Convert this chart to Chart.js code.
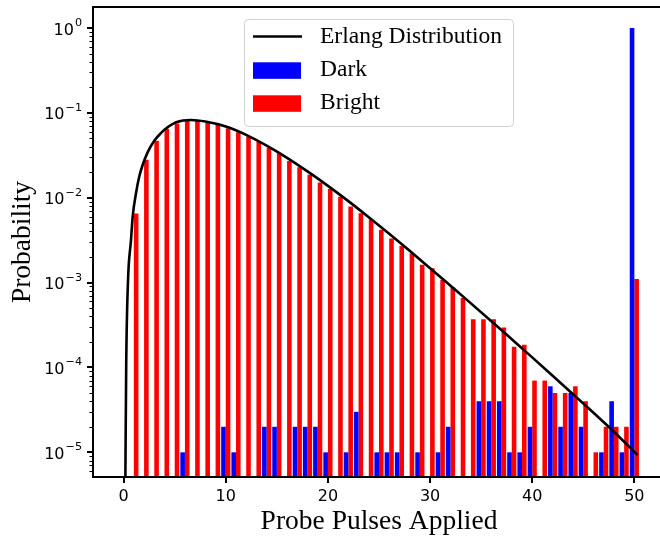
<!DOCTYPE html>
<html>
<head>
<meta charset="utf-8">
<script src="https://cdn.jsdelivr.net/npm/chart.js@4.4.1/dist/chart.umd.min.js"></script>
<style>
  html, body { margin: 0; padding: 0; background: #fff; overflow: hidden; }
  #wrap { position: relative; width: 672px; height: 539px; }
</style>
</head>
<body>
<div id="wrap"><canvas id="pulses" width="672" height="539"></canvas></div>
<script>
  // number of probe pulses applied before detection
  const pulses = [1, 2, 3, 4, 5, 6, 7, 8, 9, 10, 11, 12, 13, 14, 15, 16, 17, 18, 19, 20,
    21, 22, 23, 24, 25, 26, 27, 28, 29, 30, 31, 32, 33, 34, 35, 36, 37, 38, 39, 40,
    41, 42, 43, 44, 45, 46, 47, 48, 49, 50];

  // bright state probabilities
  const bright = [0.0065, 0.028, 0.047, 0.065, 0.075, 0.080, 0.080, 0.0775, 0.0734, 0.0659,
    0.0591, 0.0525, 0.0458, 0.0389, 0.0334, 0.0271, 0.0228, 0.0186, 0.0151, 0.0127,
    0.0103, 0.00786, 0.00657, 0.00558, 0.0042, 0.0033, 0.0027, 0.00222, 0.00162, 0.00148,
    0.00108, 0.00088, 0.00066, 0.00037, 0.00037, 0.00037, 0.000295, 0.000175, 0.000185, 7e-5,
    7e-5, 5e-5, 5e-5, 6e-5, 4e-5, 1e-5, 2e-5, 2e-5, 2e-5, 0.0011];

  // dark state: only the pulse counts that were ever hit
  const darkPulses = [6, 10, 11, 14, 15, 17, 18, 19, 20, 22, 23, 25, 26, 27, 29, 31, 32,
    35, 36, 37, 38, 39, 40, 42, 43, 44, 45, 47, 48, 49, 50];
  const dark = [1e-5, 2e-5, 1e-5, 2e-5, 2e-5, 2e-5, 2e-5, 2e-5, 1e-5, 1e-5, 3e-5, 1e-5, 1e-5, 1e-5, 1e-5, 1e-5, 2e-5,
    4e-5, 4e-5, 4e-5, 1e-5, 1e-5, 2e-5, 6e-5, 2e-5, 5e-5, 2e-5, 1e-5, 4e-5, 1e-5, 1.0];

  // erlang fit
  const erlangX = [0.12, 0.17, 0.25, 0.42, 0.72, 0.885, 1.21, 1.54, 1.87, 2.36, 3.0, 3.67, 4.33, 5.14,
    6.6, 8, 10, 12, 14, 16, 18, 20, 22, 24, 26, 28, 30, 32, 34, 36, 38, 40, 42, 44, 46, 48, 50.3];
  const erlangY = [1e-6, 5e-6, 1.05e-4, 1.0e-3, 3.16e-3, 6.0e-3, 1.13e-2, 1.8e-2, 2.45e-2, 3.45e-2,
    4.7e-2, 5.8e-2, 6.8e-2, 7.75e-2, 8.24e-2, 7.9e-2, 6.9e-2, 5.5e-2, 4.1e-2, 2.95e-2,
    2.04e-2, 1.38e-2, 9.12e-3, 5.89e-3, 3.76e-3, 2.37e-3, 1.48e-3, 9.18e-4, 5.69e-4, 3.51e-4,
    2.15e-4, 1.315e-4, 8.0e-5, 4.84e-5, 2.92e-5, 1.75e-5, 9.3e-6];

  const xTicks = [0, 10, 20, 30, 40, 50];
  const yTicks = [1e-5, 1e-4, 1e-3, 1e-2, 1e-1, 1];
  const yTickExponents = ['\u22125', '\u22124', '\u22123', '\u22122', '\u22121', '0'];

  const serif = "'Liberation Serif', 'Times New Roman', serif";
  const sans = "'DejaVu Sans', sans-serif";

  // box round the plot, like matplotlib spines
  const frame = {
    id: 'frame',
    afterDraw(chart) {
      const {ctx, chartArea: {left, top, right, bottom}} = chart;
      ctx.save();
      ctx.strokeStyle = '#000';
      ctx.lineWidth = 2;
      ctx.strokeRect(left, top, right - left, bottom - top);
      ctx.restore();
    }
  };

  // small ticks between the decades
  const minorTicks = {
    id: 'minorTicks',
    afterDraw(chart) {
      const y = chart.scales.y;
      const ctx = chart.ctx;
      const left = chart.chartArea.left;
      ctx.save();
      ctx.strokeStyle = '#000';
      ctx.lineWidth = 1;
      for (let e = -6; e <= 0; e++) {
        for (let m = 2; m <= 9; m++) {
          const v = m * Math.pow(10, e);
          if (v < y.min || v > y.max) continue;
          const py = Math.round(y.getPixelForValue(v)) + 0.5;
          ctx.beginPath();
          ctx.moveTo(left - 3.5, py);
          ctx.lineTo(left, py);
          ctx.stroke();
        }
      }
      ctx.restore();
    }
  };

  // decade labels written as 10 with a raised exponent
  const powerLabels = {
    id: 'powerLabels',
    afterDraw(chart) {
      const y = chart.scales.y;
      const ctx = chart.ctx;
      const right = chart.chartArea.left - 11;
      const baseFont = '16px ' + sans;
      const expFont = '11.2px ' + sans;
      ctx.save();
      ctx.fillStyle = '#000';
      ctx.textBaseline = 'alphabetic';
      ctx.textAlign = 'left';
      yTicks.forEach((v, i) => {
        const py = y.getPixelForValue(v);
        ctx.font = expFont;
        const ew = ctx.measureText(yTickExponents[i]).width;
        ctx.font = baseFont;
        const bw = ctx.measureText('10').width;
        const x0 = right - ew - bw - 1;
        ctx.fillText('10', x0, py + 6.6);
        ctx.font = expFont;
        ctx.fillText(yTickExponents[i], x0 + bw + 1, py - 2);
      });
      ctx.restore();
    }
  };

  // framed legend sitting inside the plot
  const legendBox = {
    id: 'legendBox',
    afterDraw(chart) {
      const ctx = chart.ctx;
      const sets = chart.data.datasets;
      const order = [2, 0, 1];
      const rowY = [36.5, 70.3, 103.3];
      ctx.save();
      ctx.beginPath();
      ctx.roundRect(244.5, 19.5, 269, 107, 4);
      ctx.fillStyle = 'rgba(255,255,255,0.8)';
      ctx.fill();
      ctx.strokeStyle = '#d0d0d0';
      ctx.lineWidth = 1;
      ctx.stroke();

      ctx.font = '23.5px ' + serif;
      ctx.textBaseline = 'middle';
      ctx.textAlign = 'left';
      order.forEach((di, row) => {
        const ds = sets[di];
        const cy = rowY[row];
        if (ds.type === 'line') {
          ctx.strokeStyle = ds.borderColor;
          ctx.lineWidth = ds.borderWidth;
          ctx.beginPath();
          ctx.moveTo(253, cy);
          ctx.lineTo(302, cy);
          ctx.stroke();
        } else {
          ctx.fillStyle = ds.backgroundColor;
          ctx.fillRect(253, cy - 8, 48, 16.5);
        }
        ctx.fillStyle = '#000';
        ctx.fillText(ds.label, 320, cy);
      });
      ctx.restore();
    }
  };

  const chart = new Chart(document.getElementById('pulses'), {
    type: 'bar',
    data: {
      datasets: [
        {
          label: 'Dark',
          data: darkPulses.map((p, i) => ({x: p, y: dark[i]})),
          backgroundColor: 'rgb(0,0,255)',
          categoryPercentage: 0.9,
          barPercentage: 1.0,
          order: 1
        },
        {
          label: 'Bright',
          data: pulses.map((p, i) => ({x: p, y: bright[i]})),
          backgroundColor: 'rgb(255,0,0)',
          categoryPercentage: 0.9,
          barPercentage: 1.0,
          order: 1
        },
        {
          type: 'line',
          label: 'Erlang Distribution',
          data: erlangX.map((p, i) => ({x: p, y: erlangY[i]})),
          borderColor: '#000',
          borderWidth: 2.6,
          pointRadius: 0,
          cubicInterpolationMode: 'monotone',
          order: 0
        }
      ]
    },
    options: {
      responsive: false,
      animation: false,
      layout: {padding: {left: 0, top: 7, right: 7, bottom: 0}},
      plugins: {
        legend: {display: false},
        tooltip: {enabled: false}
      },
      scales: {
        x: {
          type: 'linear',
          min: -3.0,
          max: 53.0,
          offset: false,
          grid: {display: true, offset: false, drawOnChartArea: false, drawTicks: true,
                 tickLength: 6, tickWidth: 2, tickColor: '#000', lineWidth: 2},
          border: {display: true, color: '#000', width: 2},
          ticks: {
            font: {family: sans, size: 16},
            color: '#000',
            padding: 4,
            maxRotation: 0
          },
          title: {
            display: true,
            text: 'Probe Pulses Applied',
            font: {family: serif, size: 27.5, lineHeight: 1.2},
            color: '#000',
            padding: {top: 0, bottom: 1}
          },
          afterBuildTicks(scale) {
            scale.ticks = xTicks.map(v => ({value: v}));
          },
          afterFit(scale) {
            scale.height = 62;
            scale.paddingLeft = 0;
            scale.paddingRight = 0;
          }
        },
        y: {
          type: 'logarithmic',
          min: 5.12e-6,
          max: 1.767,
          grid: {display: true, drawOnChartArea: false, drawTicks: true,
                 tickLength: 6, tickWidth: 2, tickColor: '#000', lineWidth: 2},
          border: {display: true, color: '#000', width: 2},
          ticks: {display: false},
          title: {
            display: true,
            text: 'Probability',
            font: {family: serif, size: 27.5, lineHeight: 1.2},
            color: '#000',
            padding: {top: 6, bottom: 0}
          },
          afterBuildTicks(scale) {
            scale.ticks = yTicks.map(v => ({value: v}));
          },
          afterFit(scale) {
            scale.width = 93;
            scale.paddingTop = 0;
            scale.paddingBottom = 0;
          }
        }
      }
    },
    plugins: [frame, minorTicks, powerLabels, legendBox]
  });
</script>
</body>
</html>
